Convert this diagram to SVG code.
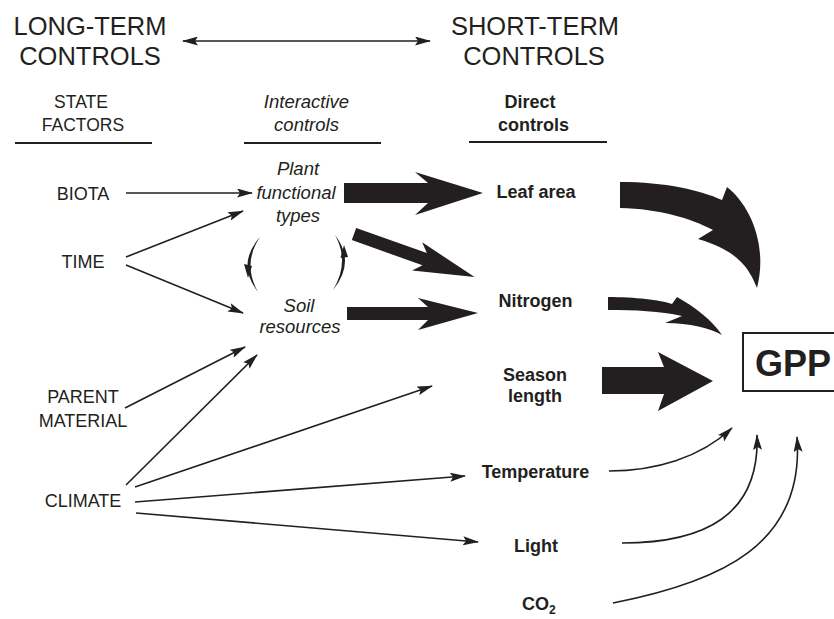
<svg xmlns="http://www.w3.org/2000/svg" width="834" height="619" viewBox="0 0 834 619">
<style>
text{font-family:"Liberation Sans",Arial,sans-serif;fill:#231f20;text-anchor:middle}
.hd{font-size:25.5px}
.sub{font-size:17.5px}
.n{font-size:18px}
.it{font-size:18.5px;font-style:italic}
.b{font-size:18px;font-weight:bold}
.ln{stroke:#231f20;stroke-width:1.6;fill:none}
.rule{stroke:#231f20;stroke-width:2.2}
.blk{fill:#231f20}
</style>
<defs>
<marker id="ah" viewBox="0 0 16 9" refX="15" refY="4.5" markerWidth="16" markerHeight="9" markerUnits="userSpaceOnUse" orient="auto-start-reverse">
<path d="M0,0 L16,4.5 L0,9 L3,4.5 Z" fill="#231f20"/>
</marker>
</defs>

<g id="headers">
<text class="hd" x="90" y="35">LONG-TERM</text>
<text class="hd" x="90" y="65">CONTROLS</text>
<text class="hd" x="535" y="35">SHORT-TERM</text>
<text class="hd" x="534" y="65">CONTROLS</text>
<text class="sub" x="81" y="108">STATE</text>
<text class="sub" x="83" y="131">FACTORS</text>
<line class="rule" x1="15" y1="143" x2="152" y2="143"/>
<text class="it" x="306.5" y="108">Interactive</text>
<text class="it" x="306.5" y="131">controls</text>
<line class="rule" x1="244" y1="143" x2="381" y2="143"/>
<text class="b" x="530" y="108">Direct</text>
<text class="b" x="533.5" y="131">controls</text>
<line class="rule" x1="469" y1="142" x2="607" y2="142"/>
</g>

<g id="biota"><text class="n" x="83" y="200">BIOTA</text></g>
<g id="time"><text class="n" x="83" y="268">TIME</text></g>
<g id="parent"><text class="n" x="83" y="403">PARENT</text><text class="n" x="83" y="427">MATERIAL</text></g>
<g id="climate"><text class="n" x="83" y="507">CLIMATE</text></g>
<g id="plant"><text class="it" x="298" y="175">Plant</text><text class="it" x="296" y="199">functional</text><text class="it" x="298" y="222">types</text></g>
<g id="soil"><text class="it" x="299" y="312">Soil</text><text class="it" x="300" y="333">resources</text></g>
<g id="leaf"><text class="b" x="536" y="198">Leaf area</text></g>
<g id="nitrogen"><text class="b" x="535.5" y="307">Nitrogen</text></g>
<g id="season"><text class="b" x="535" y="381">Season</text><text class="b" x="535" y="402">length</text></g>
<g id="temperature"><text class="b" x="535.5" y="478">Temperature</text></g>
<g id="light"><text class="b" x="536" y="552">Light</text></g>
<g id="co2"><text class="b" x="522" y="610" style="text-anchor:start">CO<tspan dy="4" font-size="12">2</tspan></text></g>
<g id="gpp">
<rect x="743" y="333" width="100" height="58" fill="none" stroke="#231f20" stroke-width="2"/>
<text x="755" y="376" style="text-anchor:start;font-size:36px;font-weight:bold">GPP</text>
</g>

<g id="connectors">
<line class="ln" x1="183" y1="41" x2="430" y2="41" marker-start="url(#ah)" marker-end="url(#ah)"/>
<line class="ln" x1="126" y1="193" x2="252" y2="193" marker-end="url(#ah)"/>
<line class="ln" x1="126" y1="257" x2="243" y2="211" marker-end="url(#ah)"/>
<line class="ln" x1="126" y1="265" x2="243" y2="313" marker-end="url(#ah)"/>
<line class="ln" x1="125" y1="408" x2="245" y2="347" marker-end="url(#ah)"/>
<line class="ln" x1="126" y1="485" x2="257" y2="355" marker-end="url(#ah)"/>
<line class="ln" x1="135" y1="487" x2="432" y2="386" marker-end="url(#ah)"/>
<line class="ln" x1="135" y1="502" x2="465" y2="476" marker-end="url(#ah)"/>
<line class="ln" x1="136" y1="513" x2="478" y2="542" marker-end="url(#ah)"/>
<path class="ln" d="M609,471 C655,471 700,458 732,428" marker-end="url(#ah)"/>
<path class="ln" d="M622,543 C705,543 760,515 757,435" marker-end="url(#ah)"/>
<path class="ln" d="M613,603 C720,582 805,545 797,437" marker-end="url(#ah)"/>

<path class="blk" d="M260,237 Q236,264 258,292 Q242,264 260,237 Z"/>
<polygon class="blk" points="244,264 252,266 248,278"/>
<path class="blk" d="M335,235 Q356,262 333,290 Q350,262 335,235 Z"/>
<polygon class="blk" points="340.5,258 348,257 344,245"/>

<polygon class="blk" points="344,183 428,183 415,172 483,193 415,215 428,203 344,203"/>
<polygon class="blk" transform="translate(354,234) rotate(19.6)" points="0,-6.5 75,-6.5 67,-15 128,0 67,15 75,6.5 0,6.5"/>
<polygon class="blk" points="347,307 428,307 418,298 478,313 418,330 428,320 347,320"/>
<polygon class="blk" points="602,367 664,367 658,352 713,381 658,411 664,394 602,394"/>
<path class="blk" d="M620,182 C665,182 700,190 722,200 L727,187 C750,205 768,245 757,288 C748,265 735,250 698,239 L713,230 C690,218 660,209 620,208 Z"/>
<path class="blk" d="M608,297 C635,297 660,300 672,304 L677,297 C695,307 712,320 722,335 C710,328 690,323 665,323 L682,316 C660,311 635,310 608,310 Z"/>
</g>
</svg>
